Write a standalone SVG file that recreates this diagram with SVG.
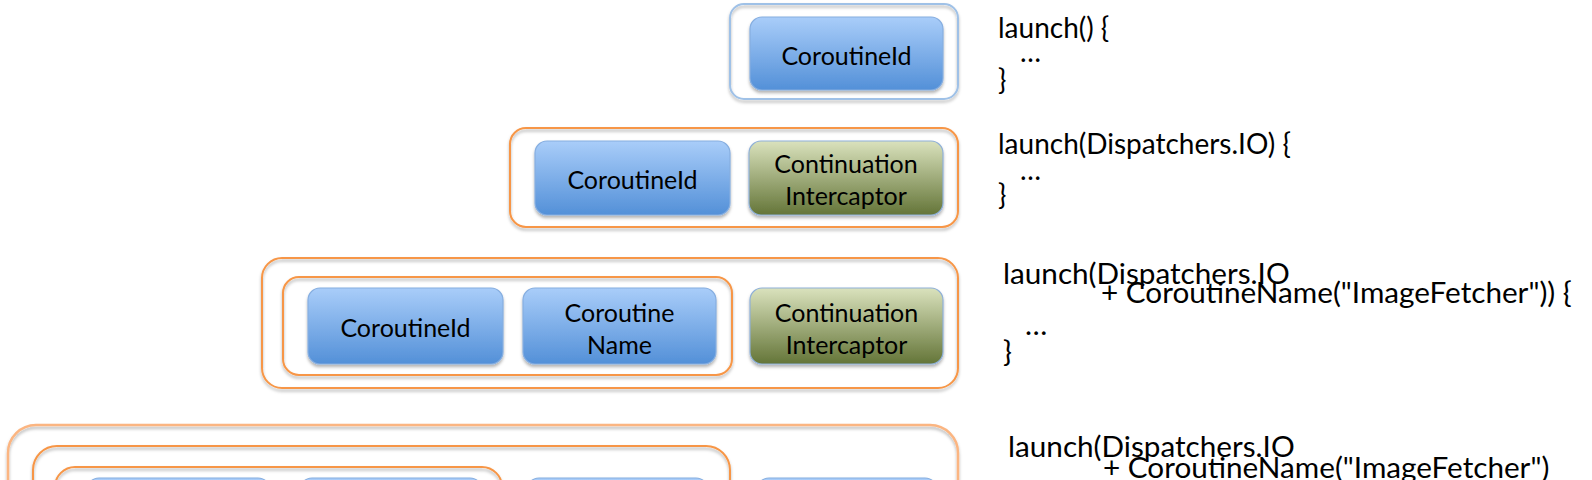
<svg xmlns="http://www.w3.org/2000/svg" width="1592" height="480" viewBox="0 0 1592 480">
<defs>
<linearGradient id="gBlue" x1="0" y1="0" x2="0" y2="1"><stop offset="0" stop-color="#a9cdf9"/><stop offset="1" stop-color="#5390d8"/></linearGradient>
<linearGradient id="gGreen" x1="0" y1="0" x2="0" y2="1"><stop offset="0" stop-color="#dae2bd"/><stop offset="1" stop-color="#647538"/></linearGradient>
<filter id="sh" x="-10%" y="-10%" width="120%" height="130%"><feDropShadow dx="0" dy="2.5" stdDeviation="1.6" flood-color="#000" flood-opacity="0.3"/></filter>
<style>
.cont{fill:none;stroke:#f79646;stroke-width:2;filter:url(#sh)}
.cont-light{fill:none;stroke:#fbb581;stroke-width:2.5;filter:url(#sh)}
.cont-blue{fill:none;stroke:#9fc1e7;stroke-width:2;filter:url(#sh)}
.blue{fill:url(#gBlue);stroke:#86aee0;stroke-width:1.2;filter:url(#sh)}
.green{fill:url(#gGreen);stroke:#8fb0d8;stroke-width:1.2;filter:url(#sh)}
.lbl{font-family:Lato,"Open Sans",sans-serif;font-size:25px;fill:#000;text-anchor:middle}
.code{font-family:Lato,"Open Sans",sans-serif;font-size:28px;fill:#000}
.code2{font-family:Lato,"Open Sans",sans-serif;font-size:29.7px;fill:#000}
</style>
</defs>
<rect width="1592" height="480" fill="#fff"/>

<g id="row1">
<g id="r1-container"><rect class="cont-blue" x="730" y="4" width="228" height="95" rx="14"/></g>
<g id="r1-coroutineid"><rect class="blue" x="750" y="17" width="193" height="73" rx="12"/><text class="lbl" x="846.5" y="64.5">CoroutineId</text></g>
</g>

<g id="row2">
<g id="r2-container"><rect class="cont" x="510" y="128" width="448" height="99" rx="16"/></g>
<g id="r2-coroutineid"><rect class="blue" x="535" y="141" width="195" height="74" rx="12"/><text class="lbl" x="632.5" y="189">CoroutineId</text></g>
<g id="r2-interceptor"><rect class="green" x="749" y="141" width="194" height="74" rx="12"/><text class="lbl" x="846" y="173">Continuation</text><text class="lbl" x="846" y="205">Intercaptor</text></g>
</g>

<g id="row3">
<g id="r3-container"><rect class="cont" x="262" y="258" width="696" height="130" rx="20"/></g>
<g id="r3-inner"><rect class="cont" x="283" y="277" width="449" height="98" rx="16"/></g>
<g id="r3-coroutineid"><rect class="blue" x="308" y="288" width="195" height="76" rx="12"/><text class="lbl" x="405.5" y="337">CoroutineId</text></g>
<g id="r3-name"><rect class="blue" x="523" y="288" width="193" height="76" rx="12"/><text class="lbl" x="619.5" y="322">Coroutine</text><text class="lbl" x="619.5" y="354">Name</text></g>
<g id="r3-interceptor"><rect class="green" x="750" y="288" width="193" height="76" rx="12"/><text class="lbl" x="846.5" y="322">Continuation</text><text class="lbl" x="846.5" y="354">Intercaptor</text></g>
</g>

<g id="row4">
<g id="r4-container"><rect class="cont-light" x="8" y="425" width="950" height="120" rx="28"/></g>
<g id="r4-middle"><rect class="cont" x="33" y="446" width="697" height="100" rx="24"/></g>
<g id="r4-inner"><rect class="cont" x="55" y="467" width="447" height="80" rx="20"/></g>
<g id="r4-box1"><rect class="blue" x="87" y="478" width="183" height="76" rx="12"/></g>
<g id="r4-box2"><rect class="blue" x="300" y="478" width="182" height="76" rx="12"/></g>
<g id="r4-box3"><rect class="blue" x="527" y="478" width="181" height="76" rx="12"/></g>
<g id="r4-box4"><rect class="blue" x="757" y="478" width="180" height="76" rx="12"/></g>
</g>

<g id="connectors"></g>

<g id="code">
<text class="code" x="998" y="38">launch() {</text>
<text class="code" x="1020" y="62">…</text>
<text class="code" x="998" y="90">}</text>
<text class="code" x="998" y="154">launch(Dispatchers.IO) {</text>
<text class="code" x="1020" y="180">…</text>
<text class="code" x="998" y="205">}</text>
<text class="code2" x="1003" y="284">launch(Dispatchers.IO</text>
<text class="code2" x="1101" y="303">+ CoroutineName("ImageFetcher")) {</text>
<text class="code2" x="1025" y="335">…</text>
<text class="code2" x="1003" y="362">}</text>
<text class="code2" x="1008" y="457">launch(Dispatchers.IO</text>
<text class="code2" x="1103" y="478">+ CoroutineName("ImageFetcher")</text>
</g>
</svg>
